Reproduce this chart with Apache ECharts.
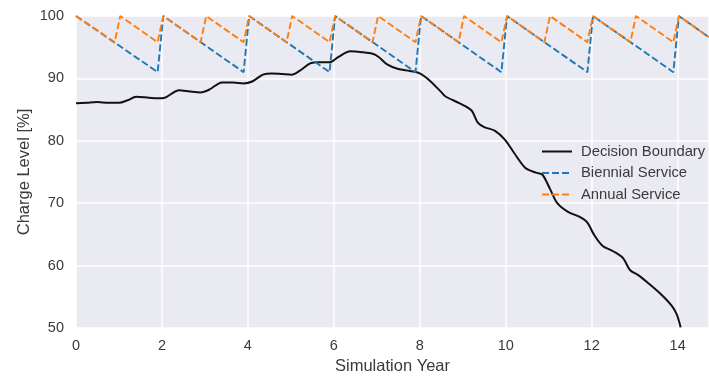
<!DOCTYPE html>
<html>
<head>
<meta charset="utf-8">
<script src="https://cdn.jsdelivr.net/npm/echarts@6/dist/echarts.min.js"></script>
<style>
html,body{margin:0;padding:0;background:#fff;}
#chart{width:709px;height:376px;}
</style>
</head>
<body>
<div id="chart"></div>
<script>
// Decision boundary: [year, charge %]
const decisionBoundary = [
  [0.0,86.0],[0.25,86.1],[0.5,86.2],[0.75,86.1],[1.0,86.1],[1.2,86.5],[1.4,87.05],
  [1.7,86.9],[2.0,86.8],[2.1,87.0],[2.4,88.1],[2.65,87.9],[2.9,87.75],[3.1,88.2],
  [3.4,89.35],[3.65,89.35],[3.9,89.2],[4.1,89.5],[4.35,90.6],[4.55,90.8],[4.8,90.7],
  [5.02,90.6],[5.2,91.2],[5.45,92.4],[5.65,92.6],[5.9,92.6],[6.1,93.4],[6.38,94.35],
  [6.65,94.2],[6.92,93.9],[7.05,93.4],[7.23,92.3],[7.5,91.5],[7.77,91.2],[8.0,90.8],
  [8.24,89.6],[8.5,87.8],[8.6,87.1],[8.93,86.0],[9.2,84.9],[9.35,82.9],[9.5,82.2],
  [9.75,81.6],[9.98,80.2],[10.2,78.0],[10.45,75.7],[10.7,74.9],[10.85,74.6],[11.03,72.3],
  [11.2,70.0],[11.45,68.6],[11.72,67.8],[11.9,66.9],[12.05,65.0],[12.25,63.2],[12.5,62.3],
  [12.73,61.2],[12.89,59.3],[13.1,58.4],[13.35,57.0],[13.6,55.5],[13.86,53.6],[13.98,52.2],
  [14.07,50.1]
];
// Biennial service sawtooth vertices
const biennialService = [
  [0,100],[1.9,91],[2.03,100],[3.9,91],[4.03,100],[5.9,91],[6.03,100],[7.9,91],
  [8.03,100],[9.9,91],[10.03,100],[11.9,91],[12.03,100],[13.9,91],[14.03,100],[14.73,96.6]
];
// Annual service sawtooth vertices
const annualService = [
  [0,100],[0.9,95.8],[1.03,100],[1.9,95.8],[2.03,100],[2.9,95.8],[3.03,100],[3.9,95.8],
  [4.03,100],[4.9,95.8],[5.03,100],[5.9,95.8],[6.03,100],[6.9,95.8],[7.03,100],[7.9,95.8],
  [8.03,100],[8.9,95.8],[9.03,100],[9.9,95.8],[10.03,100],[10.9,95.8],[11.03,100],[11.9,95.8],
  [12.03,100],[12.9,95.8],[13.03,100],[13.9,95.8],[14.03,100],[14.73,96.6]
];
const seriesNames = ['Decision Boundary','Biennial Service','Annual Service'];
const xMin = 0, xMax = 14.73, xStep = 2;
const yMin = 50, yMax = 100, yStep = 10;

const font = 'Liberation Sans, Arial, sans-serif';
const txt = '#3a3a3a';
const chart = echarts.init(document.getElementById('chart'), null, {renderer:'canvas'});
chart.setOption({
  animation:false,
  backgroundColor:'#fff',
  grid:{left:76,right:0,top:16,bottom:48,show:true,backgroundColor:'#EAEAF2',borderWidth:0,
        containLabel:false,outerBoundsMode:'none'},
  xAxis:{
    type:'value',min:xMin,max:xMax,interval:xStep,
    name:'Simulation Year',nameLocation:'middle',nameGap:30,nameMoveOverlap:false,
    nameTextStyle:{fontFamily:font,fontSize:16.5,color:txt},
    axisLine:{show:false},axisTick:{show:false},
    axisLabel:{fontFamily:font,fontSize:14.5,color:txt,margin:10,showMaxLabel:false},
    splitLine:{show:true,lineStyle:{color:'#ffffff',width:1.5}}
  },
  yAxis:{
    type:'value',min:yMin,max:yMax,interval:yStep,
    name:'Charge Level [%]',nameLocation:'middle',nameGap:43,nameMoveOverlap:false,
    nameTextStyle:{fontFamily:font,fontSize:16.5,color:txt},
    axisLine:{show:false},axisTick:{show:false},
    axisLabel:{fontFamily:font,fontSize:14.5,color:txt,margin:12},
    splitLine:{show:true,lineStyle:{color:'#ffffff',width:1.5}}
  },
  legend:{
    orient:'vertical',left:536,top:139,itemWidth:30,itemHeight:14,itemGap:6.5,
    itemStyle:{opacity:0},
    textStyle:{fontFamily:font,fontSize:14.8,color:txt,padding:[0,0,0,4]},
    data:seriesNames
  },
  series:[
    {name:seriesNames[0],type:'line',data:decisionBoundary,showSymbol:false,symbol:'none',
     smooth:0.3,lineStyle:{color:'#111111',width:2},itemStyle:{color:'#111111'},z:2},
    {name:seriesNames[1],type:'line',data:biennialService,showSymbol:false,symbol:'none',
     lineStyle:{color:'#1f77b4',width:1.9,type:[7,3]},itemStyle:{color:'#1f77b4'},z:3},
    {name:seriesNames[2],type:'line',data:annualService,showSymbol:false,symbol:'none',
     lineStyle:{color:'#ff7f0e',width:1.9,type:[7,3]},itemStyle:{color:'#ff7f0e'},z:4}
  ]
});
</script>
</body>
</html>
